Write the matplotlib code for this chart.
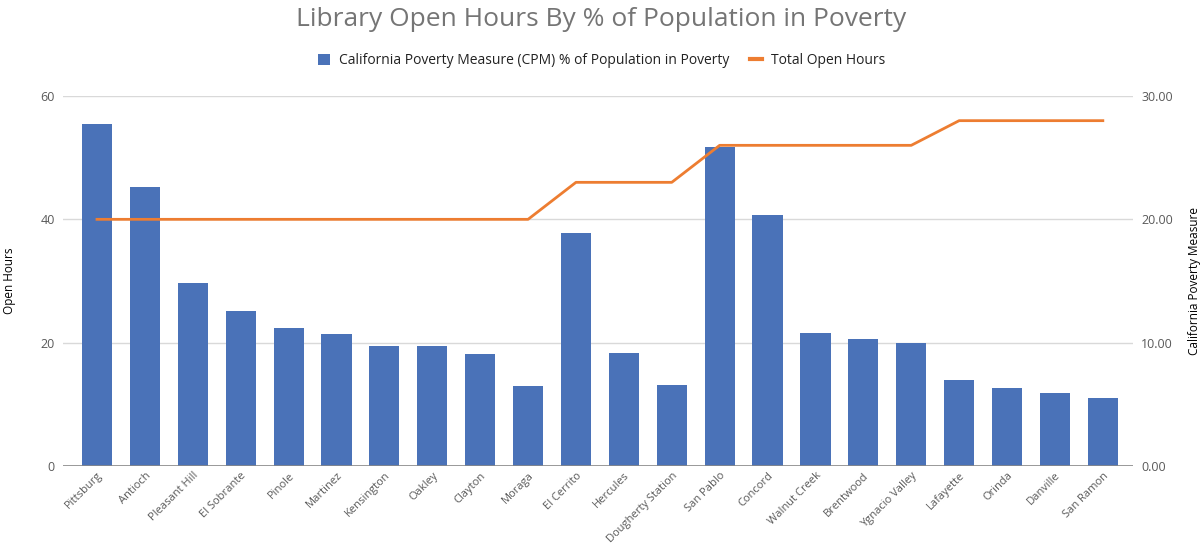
import matplotlib
matplotlib.use("Agg")
import matplotlib.pyplot as plt
from matplotlib.lines import Line2D
from matplotlib.patches import Patch
from matplotlib.ticker import FormatStrFormatter

plt.rcParams['font.family'] = ['Open Sans', 'DejaVu Sans']

libraries = ["Pittsburg", "Antioch", "Pleasant Hill", "El Sobrante", "Pinole", "Martinez",
             "Kensington", "Oakley", "Clayton", "Moraga", "El Cerrito", "Hercules",
             "Dougherty Station", "San Pablo", "Concord", "Walnut Creek", "Brentwood",
             "Ygnacio Valley", "Lafayette", "Orinda", "Danville", "San Ramon"]
poverty_pct = [27.7, 22.6, 14.85, 12.6, 11.2, 10.7, 9.75, 9.7, 9.1, 6.45, 18.9, 9.2,
               6.55, 25.85, 20.35, 10.8, 10.3, 10.0, 7.0, 6.3, 5.9, 5.5]
open_hours = [40, 40, 40, 40, 40, 40, 40, 40, 40, 40, 46, 46, 46, 52, 52, 52, 52, 52,
              56, 56, 56, 56]

title = "Library Open Hours By % of Population in Poverty"
bar_label = "California Poverty Measure (CPM) % of Population in Poverty"
line_label = "Total Open Hours"

BAR_C = "#4a72b8"
LINE_C = "#ed7d31"
GRID_C = "#d9d9d9"
TXT_C = "#595959"

fig = plt.figure(figsize=(12.03, 5.44), dpi=100)
ax = fig.add_axes([63/1203, 1-466/544, (1133-63)/1203, (466-96)/544])
ax2 = ax.twinx()

x = list(range(len(libraries)))
ax2.bar(x, poverty_pct, width=0.63, color=BAR_C, zorder=2)
ax.plot(x, open_hours, color=LINE_C, lw=2, zorder=5)

ax.set_zorder(ax2.get_zorder() + 1)
ax.patch.set_visible(False)

ax.set_xlim(-0.71, 21.63)
ax.set_ylim(0, 60)
ax2.set_ylim(0, 30)
ax.set_yticks([0, 20, 40, 60])
ax2.set_yticks([0, 10, 20, 30])
ax2.yaxis.set_major_formatter(FormatStrFormatter('%.2f'))

for v in [10, 20, 30]:
    ax2.axhline(v, color=GRID_C, lw=1, zorder=0)
ax2.axhline(0, color="#888888", lw=1.2, zorder=3)

for a in (ax, ax2):
    for s in a.spines.values():
        s.set_visible(False)
    a.tick_params(axis='y', length=0, labelsize=9, labelcolor=TXT_C)
ax.tick_params(axis='y', pad=6)
ax2.tick_params(axis='y', pad=6)

ax.set_xticks(x)
ax.set_xticklabels(libraries, rotation=45, ha='right', rotation_mode='anchor',
                   fontsize=8, color=TXT_C)
ax.tick_params(axis='x', length=0, pad=3)

ax.set_ylabel("Open Hours", fontsize=8.5, color="#000000")
ax2.set_ylabel("California Poverty Measure", fontsize=8.5, color="#000000")
ax.yaxis.set_label_coords(-0.044, 0.5)
ax2.yaxis.set_label_coords(1.051, 0.5)

fig.text(0.5, 1-20/544, title, ha='center', va='center', fontsize=19, color="#757575")

handles = [Patch(facecolor=BAR_C, edgecolor='none'),
           Line2D([0], [0], color=LINE_C, lw=3)]
fig.legend(handles, [bar_label, line_label], loc='center', bbox_to_anchor=(0.5, 1-61/544),
           ncol=2, frameon=False, fontsize=10, handlelength=0.9, handleheight=0.9,
           columnspacing=1.5, handletextpad=0.6, labelcolor="#222222")

fig.savefig("out.png", dpi=100)
